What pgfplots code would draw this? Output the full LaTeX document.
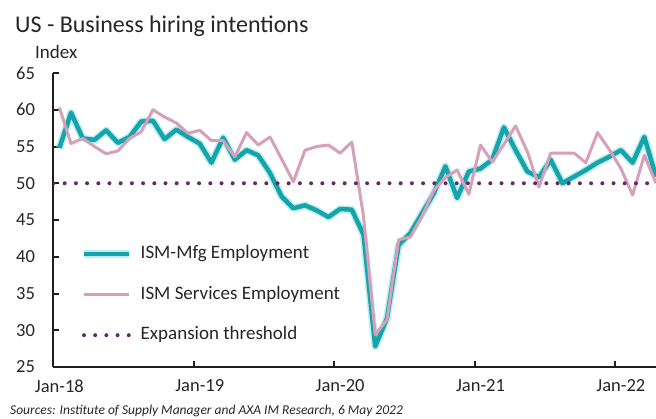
\documentclass[border=0pt]{standalone}
\usepackage{fontspec}
\setmainfont{Carlito}
\usepackage{pgfplots}
\usepackage{pgfplotstable}
\pgfplotsset{compat=1.18}

\definecolor{mfgteal}{RGB}{22,164,170}
\definecolor{mfgglow}{RGB}{140,226,232}
\definecolor{srvpink}{RGB}{214,160,184}
\definecolor{threshold}{RGB}{98,42,98}
\definecolor{axisgray}{RGB}{30,30,30}
\definecolor{textgray}{RGB}{38,38,38}

% monthly index, Jan-18 = 0
\pgfplotstableread{
i  mfg  srv
0  54.8 60.3
1  59.6 55.4
2  56.1 56.1
3  55.9 55.0
4  57.2 54.0
5  55.5 54.4
6  56.3 56.1
7  58.4 57.0
8  58.5 60.0
9  56.0 59.0
10 57.3 58.2
11 56.3 56.8
12 55.4 57.2
13 52.8 55.8
14 56.2 55.8
15 53.2 53.6
16 54.5 56.9
17 53.8 55.2
18 51.4 56.3
19 48.2 53.3
20 46.6 50.2
21 47.0 54.5
22 46.3 55.0
23 45.4 55.2
24 46.5 54.1
25 46.4 55.6
26 43.0 45.5
27 27.8 29.4
28 31.6 31.4
29 41.6 42.3
30 43.2 42.7
31 45.9 45.5
32 48.6 49.0
33 52.3 50.8
34 48.0 51.8
35 51.6 48.5
36 52.0 55.2
37 53.2 52.9
38 57.6 55.3
39 54.5 57.8
40 51.6 54.3
41 50.8 49.5
42 53.2 54.1
43 50.0 54.1
44 50.9 54.1
45 51.8 52.8
46 52.8 56.9
47 53.6 54.6
48 54.5 52.0
49 52.8 48.4
50 56.3 53.8
51 50.9 50.0
}\hiring

\begin{document}
\begin{tikzpicture}
\useasboundingbox (-53.5bp,-52bp) rectangle (602.5bp,367bp);
\begin{axis}[
    scale only axis,
    width=602.5bp, height=294bp,
    xmin=-0.5, xmax=51,
    ymin=25, ymax=65,
    axis x line*=bottom,
    axis y line*=left,
    axis line style={-, line width=2bp, axisgray},
    tick align=inside,
    major tick length=6bp,
    tick style={line width=2bp, axisgray},
    xtick={11.5,23.5,35.5,47.5},
    xticklabels={},
    extra x ticks={0,12,24,36,48},
    extra x tick labels={Jan-18,Jan-19,Jan-20,Jan-21,Jan-22},
    extra x tick style={major tick length=0pt},
    ytick={25,30,...,65},
    /pgf/number format/assume math mode=true,
    tick label style={font=\fontsize{18.5bp}{22bp}\selectfont, text=textgray},
    xticklabel style={yshift=-9bp},
    yticklabel style={xshift=-15bp},
    legend cell align=left,
    legend image code/.code={\draw[#1] (0bp,0bp) -- (45bp,0bp);},
    legend style={
        at={(0.044,0.415)}, anchor=north west,
        draw=none, fill=none, inner sep=0pt,
        font=\fontsize{19bp}{23bp}\selectfont, text=textgray,
        row sep=22.5bp, column sep=8bp,
        nodes={inner sep=0pt, text height=13.5bp, text depth=4.5bp},
    },
]
\addplot[mfgteal, line width=4.5bp, line join=round,
    preaction={draw, mfgglow, line width=7.5bp, opacity=0.6}]
    table[x=i, y=mfg] {\hiring};
\addlegendentry{ISM-Mfg Employment}
\addplot[srvpink, line width=3bp, line join=round]
    table[x=i, y=srv] {\hiring};
\addlegendentry{ISM Services Employment}
\addplot[threshold, line width=4bp, line cap=round, dash pattern=on 0bp off 11.2bp]
    coordinates {(-0.5,50) (51,50)};
\addlegendentry{Expansion threshold}
\end{axis}
\node[anchor=base west, inner sep=0pt, text=textgray,
      font=\fontsize{24bp}{28bp}\selectfont] at (-38.5bp,334bp) {US - Business hiring intentions};
\node[anchor=base west, inner sep=0pt, text=textgray,
      font=\fontsize{19bp}{23bp}\selectfont] at (-18.5bp,308bp) {Index};
\node[anchor=base west, inner sep=0pt, text=textgray,
      font=\fontsize{13.5bp}{16bp}\selectfont\itshape] at (-43.5bp,-47bp) {Sources: Institute of Supply Manager and AXA IM Research, 6 May 2022};
\end{tikzpicture}
\end{document}
